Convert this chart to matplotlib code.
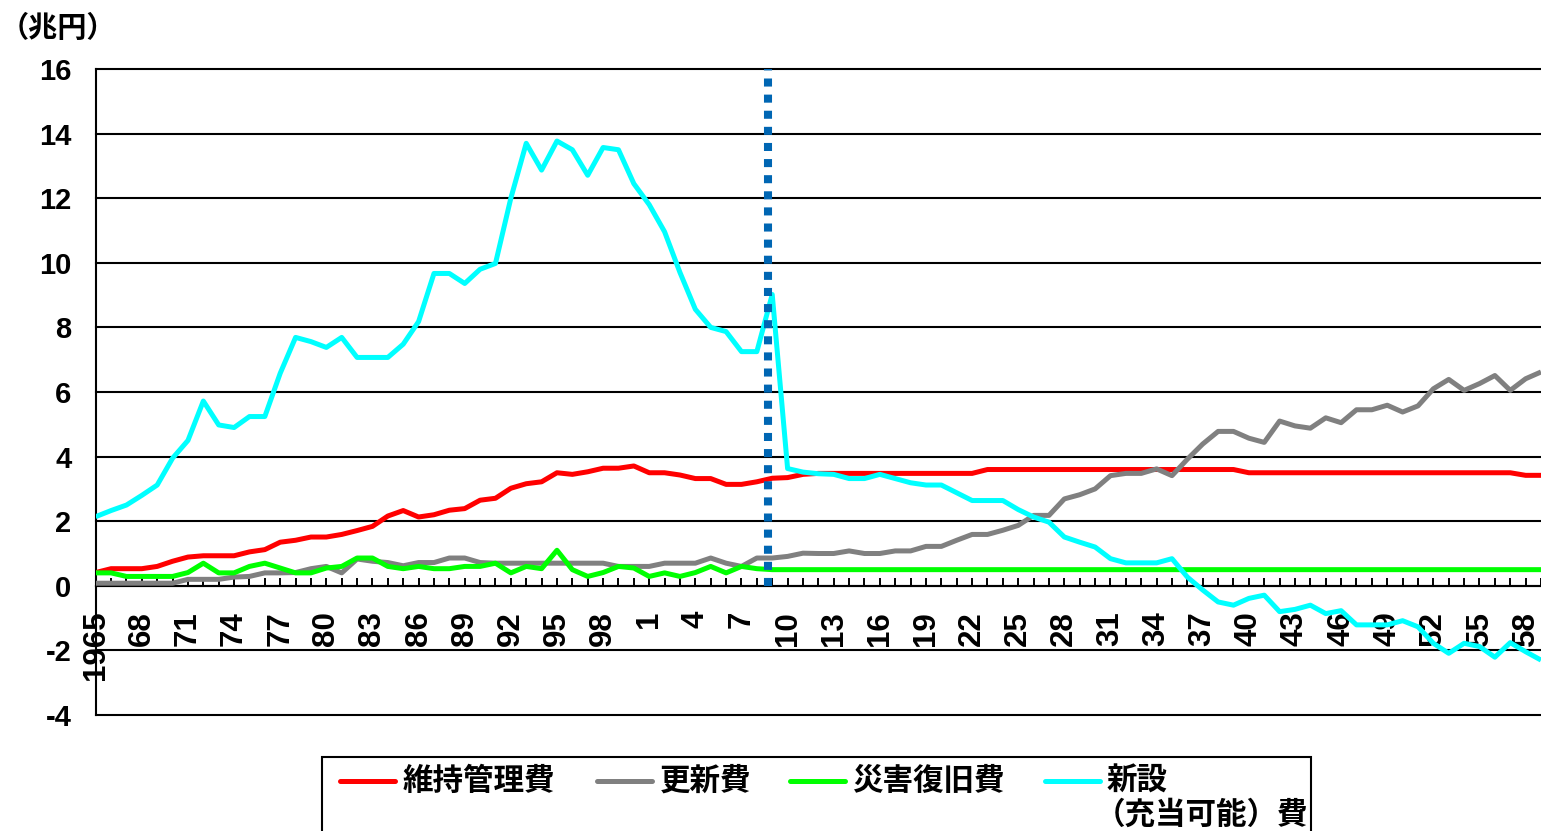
import numpy as np
import matplotlib
matplotlib.use("Agg")
import matplotlib.pyplot as plt
from matplotlib.lines import Line2D
from matplotlib.patches import Rectangle

plt.rcParams['font.family'] = ['Liberation Sans', 'Noto Sans CJK JP']
plt.rcParams['font.weight'] = 'bold'
JP = ['Noto Sans CJK JP', 'DejaVu Sans']

years = np.arange(1965, 2060)

# 維持管理費
maintenance = [
    0.41, 0.53, 0.53, 0.53, 0.60, 0.76, 0.89, 0.93, 0.93, 0.93,
    1.05, 1.12, 1.35, 1.41, 1.51, 1.51, 1.59, 1.71, 1.84, 2.16,
    2.33, 2.13, 2.20, 2.34, 2.39, 2.65, 2.71, 3.02, 3.16, 3.22,
    3.50, 3.45, 3.53, 3.64, 3.64, 3.71, 3.50, 3.50, 3.43, 3.32,
    3.32, 3.14, 3.14, 3.22, 3.33, 3.35, 3.45, 3.48, 3.48, 3.48,
    3.48, 3.48, 3.48, 3.48, 3.48, 3.48, 3.48, 3.48, 3.60, 3.60,
    3.60, 3.60, 3.60, 3.60, 3.60, 3.60, 3.60, 3.60, 3.60, 3.60,
    3.60, 3.60, 3.60, 3.60, 3.60, 3.50, 3.50, 3.50, 3.50, 3.50,
    3.50, 3.50, 3.50, 3.50, 3.50, 3.50, 3.50, 3.50, 3.50, 3.50,
    3.50, 3.50, 3.50, 3.42, 3.42,
]
# 更新費
renewal = [
    0.08, 0.08, 0.08, 0.08, 0.08, 0.08, 0.20, 0.20, 0.20, 0.27,
    0.29, 0.40, 0.40, 0.41, 0.53, 0.60, 0.40, 0.83, 0.76, 0.72,
    0.62, 0.72, 0.72, 0.86, 0.86, 0.72, 0.70, 0.70, 0.70, 0.70,
    0.70, 0.70, 0.70, 0.70, 0.60, 0.60, 0.60, 0.70, 0.70, 0.70,
    0.86, 0.70, 0.60, 0.86, 0.86, 0.91, 1.01, 1.00, 1.00, 1.08,
    1.00, 1.00, 1.08, 1.08, 1.22, 1.22, 1.41, 1.59, 1.59, 1.72,
    1.87, 2.18, 2.18, 2.69, 2.82, 3.00, 3.41, 3.48, 3.48, 3.62,
    3.41, 3.92, 4.39, 4.78, 4.78, 4.57, 4.44, 5.10, 4.95, 4.88,
    5.20, 5.05, 5.45, 5.45, 5.59, 5.38, 5.57, 6.10, 6.39, 6.05,
    6.26, 6.51, 6.05, 6.41, 6.62,
]
# 災害復旧費
disaster = [
    0.40, 0.40, 0.29, 0.29, 0.29, 0.29, 0.41, 0.70, 0.40, 0.40,
    0.60, 0.70, 0.55, 0.40, 0.40, 0.55, 0.60, 0.86, 0.86, 0.60,
    0.53, 0.60, 0.53, 0.53, 0.60, 0.60, 0.70, 0.40, 0.60, 0.53,
    1.10, 0.50, 0.29, 0.41, 0.60, 0.55, 0.29, 0.40, 0.29, 0.41,
    0.60, 0.40, 0.60, 0.53,
] + [0.50] * 51
# 新設（充当可能）費
new_build = [
    2.14, 2.33, 2.50, 2.80, 3.12, 3.95, 4.50, 5.72, 4.98, 4.90,
    5.24, 5.24, 6.58, 7.69, 7.56, 7.38, 7.69, 7.07, 7.07, 7.07,
    7.48, 8.18, 9.67, 9.67, 9.36, 9.80, 9.98, 12.00, 13.70, 12.87,
    13.77, 13.50, 12.71, 13.57, 13.50, 12.45, 11.80, 10.96, 9.70, 8.56,
    8.00, 7.87, 7.25, 7.25, 9.02, 3.63, 3.52, 3.47, 3.45, 3.32,
    3.32, 3.45, 3.32, 3.19, 3.12, 3.12, 2.88, 2.64, 2.64, 2.64,
    2.36, 2.13, 1.97, 1.51, 1.35, 1.20, 0.84, 0.71, 0.71, 0.71,
    0.84, 0.27, -0.13, -0.50, -0.60, -0.39, -0.29, -0.80, -0.73, -0.60,
    -0.86, -0.77, -1.21, -1.21, -1.21, -1.08, -1.27, -1.78, -2.09, -1.78,
    -1.88, -2.21, -1.76, -2.04, -2.30,
]

series = [
    ("維持管理費", maintenance, "#FF0000"),
    ("更新費", renewal, "#808080"),
    ("災害復旧費", disaster, "#00FF00"),
    ("新設\n（充当可能）費", new_build, "#00FFFF"),
]
cutoff_year = 2008.75
yticks = [-4, -2, 0, 2, 4, 6, 8, 10, 12, 14, 16]
xlabel_years = list(range(1965, 2059, 3))

W, H = 1541, 831
fig = plt.figure(figsize=(W / 100, H / 100), dpi=100)
ax = fig.add_axes([95.7 / W, 1 - 715 / H, 1 - 95.7 / W, 646 / H])


def fx(x):
    return x / W


def fy(y):
    return 1 - y / H


# move the category axis to zero first: this resets the tick objects
ax.spines['bottom'].set_position(('data', 0))
for s in ['top', 'right']:
    ax.spines[s].set_visible(False)
for s in ['left', 'bottom']:
    ax.spines[s].set_linewidth(1.5)
    ax.spines[s].set_color('black')

for name, vals, col in series:
    ax.plot(years, vals, color=col, lw=3.6, solid_joinstyle='round',
            solid_capstyle='butt', zorder=3)

ax.vlines(cutoff_year, 0, 16, colors='#0066B3', lw=5.8,
          linestyles=(0, (1, 1)), zorder=5)

ax.set_xlim(1965, 1965 + (W - 95.7) / 15.42)
ax.set_ylim(-4, 16)
ax.set_yticks(yticks)
ax.set_yticklabels([str(v) for v in yticks])
ax.yaxis.grid(True, color='black', lw=1.5)
for gl in ax.get_ygridlines():
    gl.set_clip_on(False)
ax.set_axisbelow(True)

labels = []
for y in years:
    if y == 1965:
        labels.append("1965")
    elif y in xlabel_years:
        labels.append(str(y % 100))
    else:
        labels.append("")
ax.set_xticks(years)
ax.set_xticklabels(labels, rotation=90, va='top', ha='center', fontsize=22.5)

ax.tick_params(axis='x', direction='in', length=5.8, width=1.4, pad=18)
ax.tick_params(axis='y', direction='in', length=5.8, width=1.4, pad=17.5,
               labelsize=21)

fig.text(fx(0), fy(28), "（兆円）", family=JP, fontsize=21, fontweight='bold',
         va='center', ha='left')

# legend box
fig.add_artist(Rectangle((fx(322), fy(845)), fx(1311 - 322), (845 - 757) / H,
                         transform=fig.transFigure, fill=False,
                         edgecolor='black', lw=1.5))
entries = [(340, 403), (597, 660), (790, 852), (1045, 1107)]
for (x0, tx), (name, vals, col) in zip(entries, series):
    fig.add_artist(Line2D([fx(x0), fx(x0 + 55)], [fy(781), fy(781)],
                          transform=fig.transFigure, color=col, lw=3.6,
                          solid_capstyle='round'))
    lines = name.split("\n")
    fig.text(fx(tx), fy(781), lines[0], family=JP, fontsize=22,
             fontweight='bold', va='center', ha='left')
    if len(lines) > 1:
        fig.text(fx(tx - 12), fy(815), lines[1], family=JP, fontsize=22,
                 fontweight='bold', va='center', ha='left')

fig.savefig("out.png", dpi=100)
